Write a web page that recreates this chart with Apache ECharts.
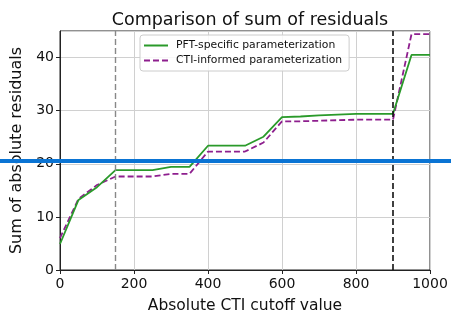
<!DOCTYPE html>
<html>
<head>
<meta charset="utf-8">
<script src="https://cdn.jsdelivr.net/npm/echarts@6/dist/echarts.min.js"></script>
<style>
  html, body { margin: 0; padding: 0; background: #fff; }
  #chart { width: 451px; height: 316px; }
</style>
</head>
<body>
<div id="chart"></div>
<script>
    // 横轴：CTI 截断值
    const cutoffs = [0, 50, 100, 150, 200, 250, 300, 350, 400, 450, 500, 550, 600, 650, 700, 750, 800, 850, 900, 950, 1000]
    // PFT-specific 残差和
    const pftValues = [4.9, 13.2, 15.6, 18.8, 18.8, 18.8, 19.4, 19.4, 23.4, 23.4, 23.4, 25.1, 28.8, 28.9, 29.1, 29.25, 29.4, 29.4, 29.4, 40.5, 40.5]
    // CTI-informed 残差和
    const ctiValues = [6.0, 13.4, 16.0, 17.6, 17.6, 17.6, 18.1, 18.1, 22.3, 22.3, 22.3, 24.0, 28.0, 28.0, 28.1, 28.2, 28.3, 28.3, 28.3, 44.4, 44.4]
    // 竖直参考线
    const grayCutoff = 150
    const blackCutoff = 900

    const font = 'DejaVu Sans'
    const chart = echarts.init(document.getElementById('chart'))

    const pair = vals => cutoffs.map((x, i) => [x, vals[i]])

    chart.setOption({
        animation: false,
        textStyle: { fontFamily: font },
        title: {
            text: 'Comparison of sum of residuals',
            left: 245, top: 6, textAlign: 'center',
            textStyle: { fontFamily: font, fontSize: 17.5, fontWeight: 'normal', color: '#111' }
        },
        grid: {
            left: 60, right: 21, top: 31, bottom: 46,
            outerBoundsMode: 'none', containLabel: false,
            show: true, borderColor: '#222', borderWidth: 1
        },
        legend: {
            left: 140, top: 35, orient: 'vertical',
            itemWidth: 24, itemHeight: 10, itemGap: 4,
            padding: [5, 7, 5, 3],
            borderColor: '#ccc', borderWidth: 1, borderRadius: 3,
            backgroundColor: 'rgba(255,255,255,0.85)',
            itemStyle: { opacity: 0, color: 'transparent', borderWidth: 0 },
            textStyle: { fontFamily: font, fontSize: 10.8, color: '#111', padding: [0, 0, 0, 3] },
            data: ['PFT-specific parameterization', 'CTI-informed parameterization']
        },
        xAxis: {
            type: 'value', min: 0, max: 1000, interval: 200,
            name: 'Absolute CTI cutoff value', nameLocation: 'middle', nameGap: 28,
            nameTextStyle: { fontFamily: font, fontSize: 15.5, color: '#111' },
            axisLine: { show: true, lineStyle: { color: '#222' } },
            axisTick: { show: true, length: 4, lineStyle: { color: '#222' } },
            axisLabel: { fontFamily: font, fontSize: 14, color: '#111', margin: 7, formatter: v => String(v) },
            splitLine: { show: true, lineStyle: { color: '#d0d0d0', width: 1 } }
        },
        yAxis: {
            type: 'value', min: 0, max: 45, interval: 10,
            name: 'Sum of absolute residuals', nameLocation: 'middle', nameGap: 34,
            nameTextStyle: { fontFamily: font, fontSize: 16, color: '#111' },
            axisLine: { show: true, lineStyle: { color: '#222' } },
            axisTick: { show: true, length: 4, lineStyle: { color: '#222' } },
            axisLabel: { fontFamily: font, fontSize: 14, color: '#111', margin: 6, showMaxLabel: false },
            splitLine: { show: true, lineStyle: { color: '#d0d0d0', width: 1 } }
        },
        series: [
            {
                name: 'PFT-specific parameterization',
                type: 'line', symbol: 'none',
                data: pair(pftValues),
                lineStyle: { color: '#2a9a2a', width: 1.8 },
                itemStyle: { color: '#2a9a2a' },
                z: 3,
                markLine: {
                    silent: true, symbol: 'none', label: { show: false },
                    data: [
                        { xAxis: grayCutoff, lineStyle: { color: '#888', type: [6, 3], width: 1.4 } },
                        { xAxis: blackCutoff, lineStyle: { color: '#111', type: [6, 3], width: 1.6 } }
                    ]
                }
            },
            {
                name: 'CTI-informed parameterization',
                type: 'line', symbol: 'none',
                data: pair(ctiValues),
                lineStyle: { color: '#8e1f8e', width: 1.8, type: [6, 3] },
                itemStyle: { color: '#8e1f8e' },
                z: 2
            }
        ],
        graphic: [
            {
                type: 'rect', left: 0, top: 159, z: 100,
                shape: { width: 451, height: 4 },
                style: { fill: '#0a74d4' }
            }
        ]
    })
</script>
</body>
</html>
